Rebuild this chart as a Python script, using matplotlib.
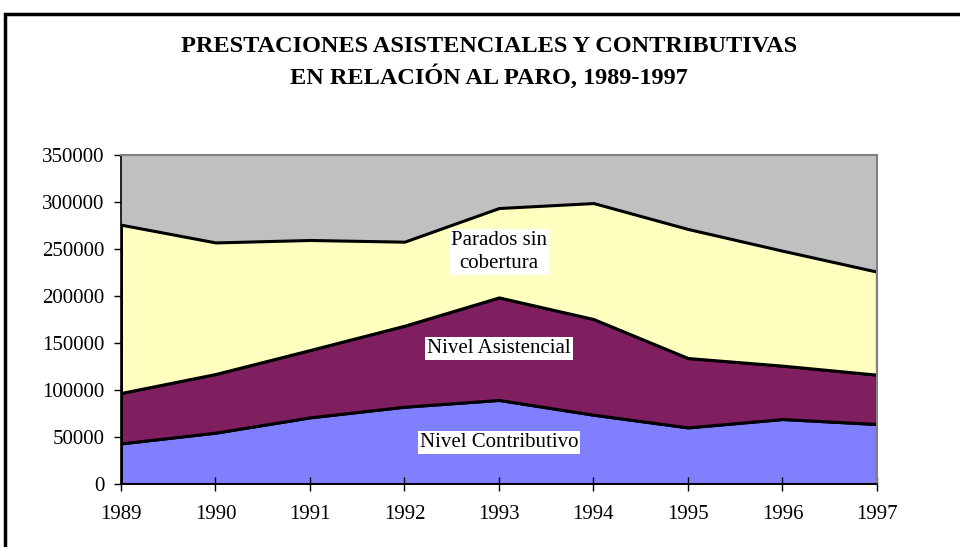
import matplotlib.pyplot as plt
from matplotlib.patches import Rectangle

plt.rcParams['font.family'] = ['Liberation Serif', 'DejaVu Serif']

years = [1989, 1990, 1991, 1992, 1993, 1994, 1995, 1996, 1997]
contributivo = [43200, 54600, 70900, 82200, 89400, 73700, 60200, 69100, 63800]
asistencial = [53600, 62400, 71600, 86200, 109100, 101800, 73800, 56800, 52500]
sin_cobertura = [179100, 140000, 117100, 89400, 95100, 123400, 137300, 122300, 109600]

colors = ['#8080FF', '#7F1F5F', '#FFFFC0']

fig = plt.figure(figsize=(9.6, 5.47), dpi=100)
ax = fig.add_axes([0.126, 0.1152, 0.7875, 0.6014])
ax.set_facecolor('#C0C0C0')

ax.stackplot(years, contributivo, asistencial, sin_cobertura,
             colors=colors, edgecolor='black', linewidth=2.2)

ax.set_xlim(1989, 1997)
ax.set_ylim(0, 350000)
ax.set_xticks(years)
ax.set_yticks(range(0, 350001, 50000))
ax.tick_params(labelsize=15)
ax.tick_params(axis='x', direction='inout', length=10, width=1, pad=10)
ax.tick_params(axis='y', direction='out', length=5, width=1, pad=7)

for s in ['top', 'right']:
    ax.spines[s].set_color('#808080')
    ax.spines[s].set_linewidth(1.5)
for s in ['left', 'bottom']:
    ax.spines[s].set_color('black')
    ax.spines[s].set_linewidth(1.2)

box = dict(facecolor='white', edgecolor='none', pad=1.5)
ax.text(1993, 246600, 'Parados sin\ncobertura', ha='center', va='center',
        fontsize=15, bbox=box, linespacing=1.3)
ax.text(1993, 143900, 'Nivel Asistencial', ha='center', va='center',
        fontsize=15, bbox=box)
ax.text(1993, 44500, 'Nivel Contributivo', ha='center', va='center',
        fontsize=15, bbox=box)

fig.text(0.509, 0.886, 'PRESTACIONES ASISTENCIALES Y CONTRIBUTIVAS\nEN RELACIÓN AL PARO, 1989-1997',
         ha='center', va='center', fontsize=17.5, fontweight='bold', linespacing=1.35)

# marco exterior
fig.patches.append(Rectangle((0.0052, -0.1), 1.2, 1.0744, transform=fig.transFigure,
                             fill=False, edgecolor='black', linewidth=2.5))

plt.savefig('out.png', dpi=100)
